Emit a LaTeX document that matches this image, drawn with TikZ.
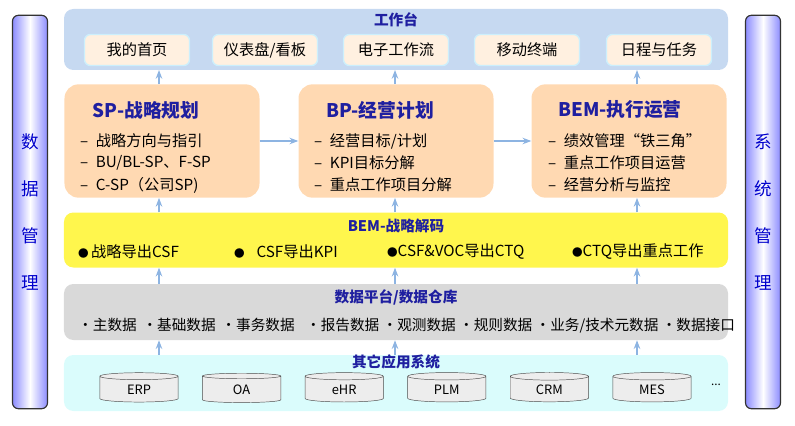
\documentclass[tikz,border=0pt]{standalone}
\usepackage{fontspec}
\setmainfont{Noto Sans CJK SC}
\usetikzlibrary{arrows.meta,positioning,shapes.geometric}
\definecolor{ttl}{HTML}{1F1FA0}
\definecolor{wbfill}{HTML}{C6D9F1}
\definecolor{arr}{HTML}{8DB4E2}
\definecolor{osfill}{HTML}{DAFCFC}
\tikzset{
    >={Stealth[]},
    layer/.style={draw=none,rounded corners=8pt,inner sep=0pt},
    sub/.style={draw=cyan!20,line width=1.2pt,fill=orange!12,rounded corners=5pt,minimum width=3.15cm,minimum height=0.93cm,font=\fontsize{13}{15}\selectfont},
    plan/.style={fill=orange!30,rounded corners=12pt,minimum width=5.85cm,minimum height=3.4cm},
    ttlfont/.style={text=ttl,font=\bfseries\fontsize{12.5}{14}\selectfont},
    item/.style={font=\fontsize{13}{15}\selectfont,anchor=west},
    db/.style={cylinder,shape border rotate=90,aspect=0.22,draw=black!70,fill=black!7,minimum width=2.35cm,minimum height=0.88cm,font=\fontsize{11}{13}\selectfont},
    bar/.style={draw=black!80,line width=1pt,rounded corners=5pt,left color=blue!45,right color=blue!45,middle color=white,minimum width=1.05cm,minimum height=11.8cm,text=blue!80!black,font=\fontsize{15}{28}\selectfont,align=center},
    up/.style={->,arr,line width=1pt}
}
\begin{document}
\begin{tikzpicture}[x=0.03cm,y=-0.03cm]
    \useasboundingbox (0,0) rectangle (795,426);
    % side bars
    \node[bar] (dm) at (30,212) {数\\[12pt]据\\[12pt]管\\[12pt]理};
    \node[bar] (sm) at (763,212) {系\\[12pt]统\\[12pt]管\\[12pt]理};
    % workbench
    \fill[wbfill,rounded corners=8pt] (64,9) rectangle (728,70);
    \node[ttlfont] (wt) at (396,20) {工作台};
    \node[sub] (w1) at (137,50) {我的首页};
    \node[sub] (w2) at (265,50) {仪表盘/看板};
    \node[sub] (w3) at (396,50) {电子工作流};
    \node[sub] (w4) at (527,50) {移动终端};
    \node[sub] (w5) at (659,50) {日程与任务};
    \coordinate (wb1) at (159,70);
    \coordinate (wb2) at (395,70);
    \coordinate (wb3) at (637,70);
    % planning boxes
    \node[plan] (sp) at (162,141) {};
    \node[plan] (bp) at (396,141) {};
    \node[plan] (bem) at (629,141) {};
    \node[ttlfont,font=\bfseries\fontsize{16}{18}\selectfont] at (146,110) {SP-战略规划};
    \node[item] at (76,141) {–\; 战略方向与指引};
    \node[item] at (76,163) {–\; BU/BL-SP、F-SP};
    \node[item] at (76,185) {–\; C-SP（公司SP)};
    \node[ttlfont,font=\bfseries\fontsize{16}{18}\selectfont] at (380,110) {BP-经营计划};
    \node[item] at (310,141) {–\; 经营目标/计划};
    \node[item] at (310,163) {–\; KPI目标分解};
    \node[item] at (310,185) {–\; 重点工作项目分解};
    \node[ttlfont,font=\bfseries\fontsize{16}{18}\selectfont] at (620,110) {BEM-执行运营};
    \node[item] at (544,141) {–\; 绩效管理“铁三角”};
    \node[item] at (544,163) {–\; 重点工作项目运营};
    \node[item] at (544,185) {–\; 经营分析与监控};
    \draw[up] (sp.east) -- (bp.west);
    \draw[up] (bp.east) -- (bem.west);
    \draw[up] (sp.north -| wb1) -- (wb1);
    \draw[up] (bp.north -| wb2) -- (wb2);
    \draw[up] (bem.north -| wb3) -- (wb3);
    % decoding
    \node[layer,fill=yellow!70!white,minimum width=19.92cm,minimum height=1.65cm] (dec) at (396,240) {};
    \node[ttlfont] at (396,226) {BEM-战略解码};
    \node[item] at (74,252) {{\small●}\,战略导出CSF};
    \node[item] at (230,252) {{\small●}\;\; CSF导出KPI};
    \node[item] at (383,252) {{\small●}CSF\&VOC导出CTQ};
    \node[item] at (568,252) {{\small●}CTQ导出重点工作};
    \draw[up] (dec.north -| wb1) -- (sp.south -| wb1);
    \draw[up] (dec.north -| wb2) -- (bp.south -| wb2);
    \draw[up] (dec.north -| wb3) -- (bem.south -| wb3);
    % data platform
    \node[layer,fill=black!15,minimum width=19.92cm,minimum height=1.68cm] (dp) at (396,312) {};
    \node[ttlfont] at (396,297) {数据平台/数据仓库};
    \node[item,font=\fontsize{12.5}{14}\selectfont,inner sep=0pt] at (78,326) {•主数据\, •基础数据\, •事务数据\;\; •报告数据 •观测数据 •规则数据 •业务/技术元数据 •数据接口};
    \draw[up] (dp.north -| wb1) -- (dec.south -| wb1);
    \draw[up] (dp.north -| wb2) -- (dec.south -| wb2);
    \draw[up] (dp.north -| wb3) -- (dec.south -| wb3);
    % other systems
    \node[layer,fill=osfill,minimum width=19.92cm,minimum height=1.68cm] (os) at (396,383) {};
    \node[ttlfont] at (396,362) {其它应用系统};
    \foreach \n/\t [count=\i from 0] in {erp/ERP,oa/OA,ehr/eHR,plm/PLM,crm/CRM,mes/MES}
        \node[db] (\n) at (139+102.6*\i,390) {\t};
    \node (more) at (716,385) {...};
    \draw[up] (os.north -| wb1) -- (dp.south -| wb1);
    \draw[up] (os.north -| wb2) -- (dp.south -| wb2);
    \draw[up] (os.north -| wb3) -- (dp.south -| wb3);
\end{tikzpicture}
\end{document}
